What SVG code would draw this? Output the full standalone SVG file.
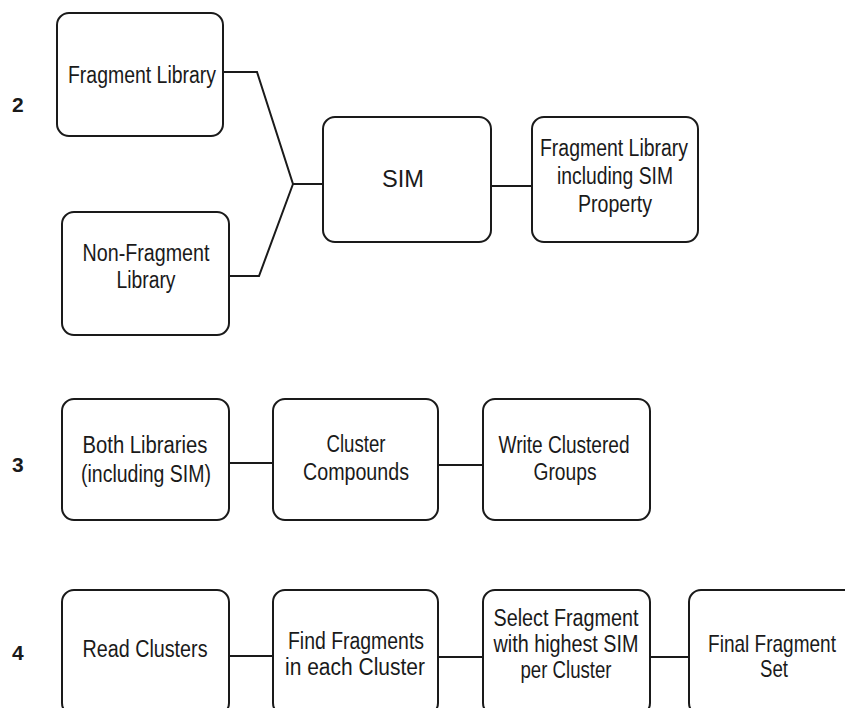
<svg xmlns="http://www.w3.org/2000/svg" width="845" height="708" viewBox="0 0 845 708">
<style>
.box{fill:#fff;stroke:#1a1a1a;stroke-width:2}
.ln{fill:none;stroke:#1a1a1a;stroke-width:2}
.t{font-family:"Liberation Sans",Arial,sans-serif;font-size:23px;fill:#1a1a1a;text-anchor:middle}
.n{font-family:"Liberation Sans",Arial,sans-serif;font-size:21px;font-weight:bold;fill:#1a1a1a}
</style>
<rect width="845" height="708" fill="#fff"/>
<g id="labels">
<text class="n" x="12" y="112">2</text>
<text class="n" x="12" y="472">3</text>
<text class="n" x="12" y="660">4</text>
</g>
<g id="connectors">
<polyline class="ln" points="223,72 257,72 293,184 323,184"/>
<polyline class="ln" points="229,276 259,276 293,184"/>
<line class="ln" x1="491" y1="186" x2="532" y2="186"/>
<line class="ln" x1="229" y1="463" x2="273" y2="463"/>
<line class="ln" x1="438" y1="465" x2="483" y2="465"/>
<line class="ln" x1="229" y1="656" x2="273" y2="656"/>
<line class="ln" x1="438" y1="657" x2="483" y2="657"/>
<line class="ln" x1="650" y1="657" x2="689" y2="657"/>
</g>
<g id="fraglib">
<rect class="box" x="57" y="13" width="166" height="123" rx="12"/>
<text class="t" x="142" y="83" textLength="148" lengthAdjust="spacingAndGlyphs">Fragment Library</text>
</g>
<g id="nonfrag">
<rect class="box" x="62" y="212" width="167" height="123" rx="12"/>
<text class="t" x="146" y="261" textLength="127" lengthAdjust="spacingAndGlyphs">Non-Fragment</text>
<text class="t" x="146" y="288" textLength="59" lengthAdjust="spacingAndGlyphs">Library</text>
</g>
<g id="sim">
<rect class="box" x="323" y="117" width="168" height="125" rx="12"/>
<text class="t" x="403" y="187" textLength="42" lengthAdjust="spacingAndGlyphs">SIM</text>
</g>
<g id="fraglibsim">
<rect class="box" x="532" y="117" width="166" height="125" rx="12"/>
<text class="t" x="614" y="156" textLength="148" lengthAdjust="spacingAndGlyphs">Fragment Library</text>
<text class="t" x="615" y="184" textLength="116" lengthAdjust="spacingAndGlyphs">including SIM</text>
<text class="t" x="615" y="212" textLength="74" lengthAdjust="spacingAndGlyphs">Property</text>
</g>
<g id="both">
<rect class="box" x="62" y="399" width="167" height="121" rx="12"/>
<text class="t" x="145" y="453" textLength="125" lengthAdjust="spacingAndGlyphs">Both Libraries</text>
<text class="t" x="146" y="482" textLength="130" lengthAdjust="spacingAndGlyphs">(including SIM)</text>
</g>
<g id="cluster">
<rect class="box" x="273" y="399" width="165" height="121" rx="12"/>
<text class="t" x="356" y="452" textLength="59" lengthAdjust="spacingAndGlyphs">Cluster</text>
<text class="t" x="356" y="480" textLength="106" lengthAdjust="spacingAndGlyphs">Compounds</text>
</g>
<g id="write">
<rect class="box" x="483" y="399" width="167" height="121" rx="12"/>
<text class="t" x="564" y="453" textLength="131" lengthAdjust="spacingAndGlyphs">Write Clustered</text>
<text class="t" x="565" y="480" textLength="63" lengthAdjust="spacingAndGlyphs">Groups</text>
</g>
<g id="read">
<rect class="box" x="62" y="590" width="167" height="125" rx="12"/>
<text class="t" x="145" y="657" textLength="125" lengthAdjust="spacingAndGlyphs">Read Clusters</text>
</g>
<g id="find">
<rect class="box" x="273" y="590" width="165" height="125" rx="12"/>
<text class="t" x="356" y="649" textLength="136" lengthAdjust="spacingAndGlyphs">Find Fragments</text>
<text class="t" x="355" y="675" textLength="140" lengthAdjust="spacingAndGlyphs">in each Cluster</text>
</g>
<g id="select">
<rect class="box" x="483" y="590" width="167" height="125" rx="12"/>
<text class="t" x="566" y="626" textLength="145" lengthAdjust="spacingAndGlyphs">Select Fragment</text>
<text class="t" x="566" y="652" textLength="145" lengthAdjust="spacingAndGlyphs">with highest SIM</text>
<text class="t" x="566" y="678" textLength="91" lengthAdjust="spacingAndGlyphs">per Cluster</text>
</g>
<g id="final">
<rect class="box" x="689" y="590" width="170" height="125" rx="12"/>
<text class="t" transform="translate(772,652) scale(0.827,1)" x="0" y="0">Final Fragment</text>
<text class="t" x="774" y="677" textLength="28" lengthAdjust="spacingAndGlyphs">Set</text>
</g>
</svg>
